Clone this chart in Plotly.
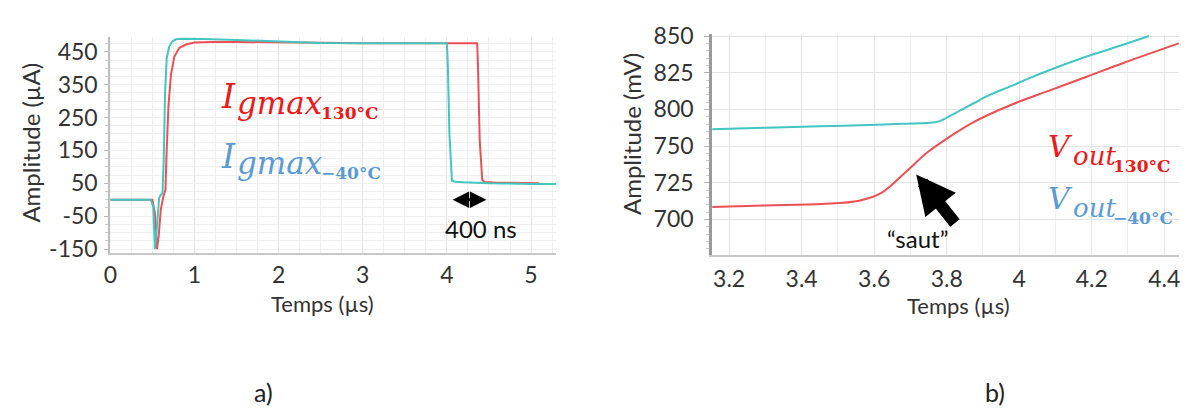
import plotly.graph_objects as go

# ---------------- data: left panel (I_gmax, µA vs µs) ----------------
t_cold = [0, 0.48, 0.51, 0.53, 0.555, 0.58, 0.6, 0.62, 0.635, 0.65, 0.67, 0.7, 0.74, 0.78, 0.85, 0.95, 1.1, 1.5, 2.0, 2.5, 3.0, 3.5, 4.0, 4.01, 4.03, 4.06, 4.1, 4.2, 4.5, 5.0, 5.3]
i_cold = [0, 0, -20, -150, -80, 5, 15, 20, 120, 320, 430, 466, 482, 488, 490, 490, 489, 486, 481, 477, 476, 476, 476, 420, 200, 58, 55, 53, 50, 48, 48]

t_hot = [0, 0.5, 0.53, 0.555, 0.575, 0.6, 0.63, 0.655, 0.67, 0.69, 0.72, 0.76, 0.82, 0.9, 1.0, 1.2, 1.5, 2.0, 2.5, 3.0, 3.5, 4.0, 4.36, 4.37, 4.39, 4.42, 4.45, 4.6, 5.0, 5.1]
i_hot = [0, 0, -40, -150, -110, -30, 10, 30, 150, 280, 380, 435, 462, 472, 478, 480, 480, 478, 477, 476, 476, 476, 476, 400, 180, 60, 54, 52, 50, 50]

left_xticks = [0, 1, 2, 3, 4, 5]
left_yticks = [-150, -50, 50, 150, 250, 350, 450]
left_ytext = ["-150", "-50", "50", "150", "250", "350", "450"]

# ---------------- data: right panel (V_out, mV vs µs) ----------------
t_vcold = [3.153, 3.3, 3.45, 3.56, 3.68, 3.768, 3.784, 3.82, 3.873, 3.92, 3.977, 4.03, 4.081, 4.186, 4.28, 4.358]
v_cold = [761.5, 762.5, 763.5, 764.2, 765.2, 766.2, 767.3, 772.0, 779.0, 785.0, 790.8, 796.5, 801.5, 811.0, 818.5, 825.0]

t_vhot = [3.153, 3.3, 3.456, 3.559, 3.62, 3.685, 3.748, 3.81, 3.873, 3.977, 4.081, 4.186, 4.289, 4.44]
v_hot = [708.4, 709.5, 710.5, 712.7, 718.0, 731.8, 745.9, 756.6, 766.2, 778.0, 787.6, 797.2, 806.8, 820.0]

# tick labels as printed on the original right-hand axis
v_tickvals = [700, 725, 750, 775, 800, 825]
v_ticktext = ["700", "725", "750", "800", "825", "850"]

right_xticks = [3.2, 3.4, 3.6, 3.8, 4.0, 4.2, 4.4]
right_xtext = ["3.2", "3.4", "3.6", "3.8", "4", "4.2", "4.4"]

RED = "#ef4f52"
CYAN = "#41c6c1"
FONT = "Lato"
TICKC = "#333333"

fig = go.Figure()
fig.add_trace(go.Scatter(x=t_hot, y=i_hot, mode="lines", line=dict(color=RED, width=2),
                         xaxis="x", yaxis="y", showlegend=False))
fig.add_trace(go.Scatter(x=t_cold, y=i_cold, mode="lines", line=dict(color=CYAN, width=2),
                         xaxis="x", yaxis="y", showlegend=False))
fig.add_trace(go.Scatter(x=t_vcold, y=v_cold, mode="lines", line=dict(color=CYAN, width=2, shape="spline"),
                         xaxis="x2", yaxis="y2", showlegend=False))
fig.add_trace(go.Scatter(x=t_vhot, y=v_hot, mode="lines", line=dict(color=RED, width=2, shape="spline"),
                         xaxis="x2", yaxis="y2", showlegend=False))

W, H = 1192, 417
def px(x):
    return x / W
def py(y):
    return 1 - y / H

grid = "#e4e4e4"
mgrid = "#efefef"
tickfont = dict(family=FONT, size=23, color=TICKC)

fig.update_layout(
    width=W, height=H,
    margin=dict(l=0, r=0, t=0, b=0),
    paper_bgcolor="white", plot_bgcolor="white",
    xaxis=dict(domain=[px(104), px(553)], range=[0, 5.3], anchor="y",
               tickvals=left_xticks, tickfont=tickfont,
               showgrid=True, gridcolor=grid, zeroline=False,
               showline=True, linecolor="#c8c8c8", linewidth=2,
               ticks="", ticklabelstandoff=1,
               minor=dict(dtick=0.25, showgrid=True, gridcolor=mgrid)),
    yaxis=dict(domain=[py(253), py(25)], range=[-161, 496], anchor="x",
               tickvals=left_yticks, ticktext=left_ytext, tickfont=tickfont,
               showgrid=True, gridcolor=mgrid, zeroline=False,
               showline=True, linecolor="#bdbdbd", linewidth=2,
               ticks="outside", ticklen=4, tickcolor="#bdbdbd", ticklabelstandoff=2,
               minor=dict(dtick=25, ticks="outside", ticklen=3, tickcolor="#cfcfcf",
                          showgrid=True, gridcolor=mgrid)),
    xaxis2=dict(domain=[px(710), px(1180)], range=[3.1534, 4.441], anchor="y2",
                tickvals=right_xticks, ticktext=right_xtext, tickfont=tickfont,
                showgrid=True, gridcolor=grid, zeroline=False,
                showline=True, linecolor="#c8c8c8", linewidth=2,
                ticks="", ticklabelstandoff=3,
                minor=dict(dtick=0.1, showgrid=True, gridcolor=mgrid)),
    yaxis2=dict(domain=[py(255), py(22)], range=[676, 826.5], anchor="x2",
                tickvals=v_tickvals, ticktext=v_ticktext, tickfont=tickfont,
                showgrid=True, gridcolor=grid, zeroline=False,
                showline=True, linecolor="#9a9a9a", linewidth=3,
                ticks="outside", ticklen=5, tickcolor="#b5b5b5",
                ticklabelstandoff=6,
                minor=dict(dtick=5, ticks="outside", ticklen=3, tickcolor="#cccccc",
                           showgrid=False)),
)

ann = []
xtitle_font = dict(family=FONT, size=22, color=TICKC)
ytitle_font = dict(family=FONT, size=24, color=TICKC)
def paper_text(text, x, y, font, angle=0, xanchor="center"):
    return dict(text=text, x=px(x), y=py(y), xref="paper", yref="paper",
                textangle=angle, showarrow=False, font=font,
                xanchor=xanchor, yanchor="middle")

ann.append(paper_text("Amplitude (µA)", 24, 137, ytitle_font, -90))
ann.append(paper_text("Temps (µs)", 318, 307, xtitle_font))
ann.append(paper_text("Amplitude (mV)", 628, 128, ytitle_font, -90))
ann.append(paper_text("Temps (µs)", 958, 309, xtitle_font))
ann.append(paper_text("a)", 258, 400, dict(family=FONT, size=25, color="#222")))
ann.append(paper_text("b)", 995, 400, dict(family=FONT, size=25, color="#222")))

serif = "DejaVu Serif"
def legend_label(color, sym, sx, sy, ssize, sub, bx, by, bsize, temp, tx, ty, tsize):
    return [
        paper_text(f"<i>{sym}</i>", sx, sy, dict(family=serif, size=ssize, color=color), xanchor="left"),
        paper_text(f"<i>{sub}</i>", bx, by, dict(family=serif, size=bsize, color=color), xanchor="left"),
        paper_text(f"<b>{temp}</b>", tx, ty, dict(family=serif, size=tsize, color=color), xanchor="left"),
    ]

RED_T = "#f01818"
BLUE_T = "#5b9bd5"
ann += legend_label(RED_T, "I", 213, 88, 33, "gmax", 230, 95, 31, "130°C", 314, 106, 17)
ann += legend_label(BLUE_T, "I", 213, 151, 33, "gmax", 230, 158, 31, "−40°C", 314, 169, 17)
ann += legend_label(RED_T, "V", 1046, 141, 30, "out", 1071, 151, 26, "130°C", 1111, 161, 17)
ann += legend_label(BLUE_T, "V", 1046, 196, 30, "out", 1071, 206, 26, "−40°C", 1111, 216, 17)

# 400 ns double arrow
ann.append(dict(x=4.47, y=0, ax=4.05, ay=0, xref="x", yref="y", axref="x", ayref="y",
                text="", showarrow=True, arrowhead=2, startarrowhead=2, arrowside="end+start",
                arrowwidth=3, arrowsize=1.1, startarrowsize=1.1, arrowcolor="black"))
ann.append(paper_text("400 ns", 477, 228, dict(family=FONT, size=24, color="#111")))

# "saut" arrow
ann.append(dict(x=3.716, y=730.6, xref="x2", yref="y2", ax=40, ay=50,
                text="", showarrow=True, arrowhead=2, arrowwidth=12, arrowsize=0.65,
                arrowcolor="black", standoff=0))
ann.append(paper_text("“saut”", 917, 238, dict(family=FONT, size=24, color="#111")))

fig.update_layout(annotations=ann)
fig.write_html("out.html", config=dict(displayModeBar=False),
               post_script="document.body.style.margin='0px';document.body.style.overflow='hidden';")
